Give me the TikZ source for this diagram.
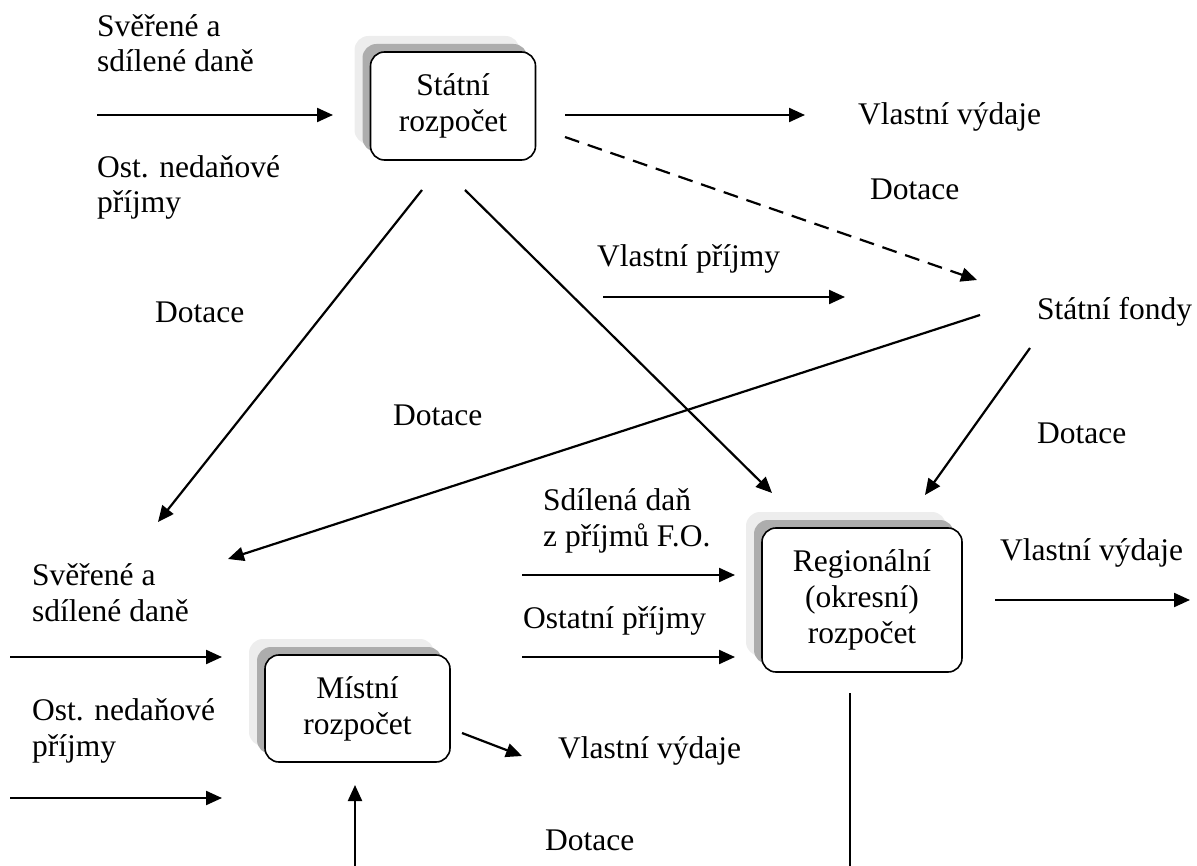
\documentclass[tikz,border=0pt]{standalone}
\usepackage{fontspec}
\setmainfont{Liberation Serif}
\usetikzlibrary{arrows.meta,shadows}
\begin{document}
\begin{tikzpicture}[x=1pt,y=-1pt,
  lbl/.style={anchor=base west,inner sep=0pt,font=\fontsize{31.5}{36}\selectfont},
  budget/.style={draw,line width=1.6pt,rounded corners=14pt,fill=white,align=center,
    font=\fontsize{31.5}{36}\selectfont,inner sep=0pt,
    general shadow={shadow xshift=-16pt,shadow yshift=16pt,fill=black!7,draw=none},
    general shadow={shadow xshift=-8pt,shadow yshift=8pt,fill=black!32,draw=none}},
  flow/.style={line width=2.2pt,-{Triangle[length=16pt,width=14pt]}},
  link/.style={line width=2.2pt},
]
\useasboundingbox (0,0) rectangle (1197,866);

% budgets
\node[budget,minimum width=165pt,minimum height=108pt] (sr) at (453,106) {Státní\\rozpočet};
\node[budget,minimum width=200pt,minimum height=144pt] (rr) at (862,600) {Regionální\\(okresní)\\rozpočet};
\node[budget,minimum width=185pt,minimum height=107pt] (mr) at (357.5,708.5) {Místní\\rozpočet};

% labels around the state budget
\node[lbl] (t1a) at (97,37) {Svěřené a};
\node[lbl] (t1b) at (97,72) {sdílené daně};
\node[lbl] (t2a) at (97,178) {Ost. nedaňové};
\node[lbl] (t2b) at (97,213) {příjmy};
\node[lbl] (vv1) at (858,125) {Vlastní výdaje};
\node[lbl] (d1) at (870,200) {Dotace};
\node[lbl] (vp) at (597,267) {Vlastní příjmy};
\node[lbl] (sf) at (1037,320) {Státní fondy};
\node[lbl] (d2) at (155,323) {Dotace};
\node[lbl] (d3) at (393,425) {Dotace};
\node[lbl] (d4) at (1037,443) {Dotace};

% labels around the regional budget
\node[lbl] (s1) at (543,510) {Sdílená daň};
\node[lbl] (s2) at (543,546) {z příjmů F.O.};
\node[lbl] (op) at (523,628) {Ostatní příjmy};
\node[lbl] (vv2) at (1000,560) {Vlastní výdaje};

% labels around the local budget
\node[lbl] (t3a) at (32,585) {Svěřené a};
\node[lbl] (t3b) at (32,621) {sdílené daně};
\node[lbl] (t4a) at (32,720) {Ost. nedaňové};
\node[lbl] (t4b) at (32,756) {příjmy};
\node[lbl] (vv3) at (558,758) {Vlastní výdaje};
\node[lbl] (d5) at (545,850) {Dotace};

% free ends of the flows
\coordinate (a1s) at (97,115);   \coordinate (a1e) at (333,115);
\coordinate (a2s) at (565,115);  \coordinate (a2e) at (805,115);
\coordinate (a3s) at (565,137);  \coordinate (a3e) at (977,280);
\coordinate (a4s) at (603,297);  \coordinate (a4e) at (845,297);
\coordinate (a5s) at (980,315);  \coordinate (a5e) at (228,559);
\coordinate (a6s) at (1030,348); \coordinate (a6e) at (925,495);
\coordinate (a7s) at (422,190);  \coordinate (a7e) at (158,522);
\coordinate (a8s) at (465,190);  \coordinate (a8e) at (772,493);
\coordinate (a9s) at (522,575);  \coordinate (a9e) at (735,575);
\coordinate (b1s) at (522,657);  \coordinate (b1e) at (735,657);
\coordinate (b2s) at (995,600);  \coordinate (b2e) at (1190,600);
\coordinate (b3s) at (10,657);   \coordinate (b3e) at (222,657);
\coordinate (b4s) at (10,798);   \coordinate (b4e) at (222,798);
\coordinate (b5s) at (462,733);  \coordinate (b5e) at (522,756);
\coordinate (b6s) at (355,866);  \coordinate (b6e) at (355,785);
\coordinate (b7s) at (850,693);  \coordinate (b7e) at (850,866);

\draw[flow] (a1s) -- (a1e);
\draw[flow] (a2s) -- (a2e);
\draw[flow,dash pattern=on 15pt off 9pt] (a3s) -- (a3e);
\draw[flow] (a4s) -- (a4e);
\draw[flow] (a5s) -- (a5e);
\draw[flow] (a6s) -- (a6e);
\draw[flow] (a7s) -- (a7e);
\draw[flow] (a8s) -- (a8e);
\draw[flow] (a9s) -- (a9e);
\draw[flow] (b1s) -- (b1e);
\draw[flow] (b2s) -- (b2e);
\draw[flow] (b3s) -- (b3e);
\draw[flow] (b4s) -- (b4e);
\draw[flow] (b5s) -- (b5e);
\draw[flow] (b6s) -- (b6e);
\draw[link] (b7s) -- (b7e);
\end{tikzpicture}
\end{document}
